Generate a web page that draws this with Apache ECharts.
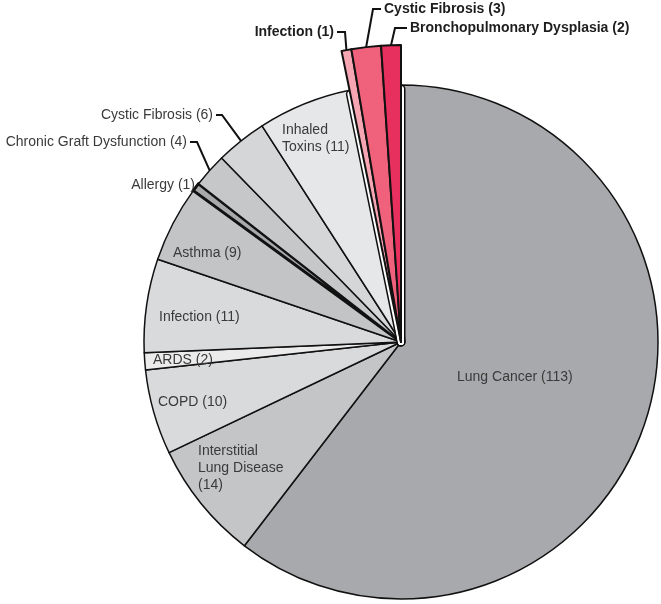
<!DOCTYPE html>
<html>
<head>
<meta charset="utf-8">
<script src="https://cdn.jsdelivr.net/npm/echarts@6/dist/echarts.min.js"></script>
<style>
  html, body { margin: 0; background: #fff; }
  #chart { width: 661px; height: 604px; }
</style>
</head>
<body>
<div id="chart"></div>
<script>
// slices clockwise from 12 o'clock
const names = [
  'Lung Cancer', 'Interstitial Lung Disease', 'COPD', 'ARDS', 'Infection', 'Asthma',
  'Allergy', 'Chronic Graft Dysfunction', 'Cystic Fibrosis', 'Inhaled Toxins',
  'Infection', 'Cystic Fibrosis', 'Bronchopulmonary Dysplasia'
]
const counts = [113, 14, 10, 2, 11, 9, 1, 4, 6, 11, 1, 3, 2]
const highlighted = [false, false, false, false, false, false, false, false, false, false, true, true, true]
const sliceColors = [
  '#a8a9ac', '#c4c5c7', '#d9dadb', '#ebebec', '#d9dadb', '#c3c4c6',
  '#a8a9ab', '#c6c7c9', '#d5d6d8', '#e6e7e8',
  '#f6a5b2', '#f0627c', '#e8305e'
]
// names broken over lines where the label wraps
const wrappedNames = { 1: 'Interstitial\nLung Disease\n', 9: 'Inhaled\nToxins ' }

const CX = 401, CY = 342
const R_GREY = 257, R_RED = 297
const total = counts.reduce((a, b) => a + b, 0)

// label anchor spots (pixels), knee = x of the leader line bend
const labelSpots = [
  { x: 457, y: 377, align: 'left' },
  { x: 198, y: 468, align: 'left' },
  { x: 158, y: 402, align: 'left' },
  { x: 153, y: 360, align: 'left' },
  { x: 159, y: 317, align: 'left' },
  { x: 173, y: 253, align: 'left' },
  { x: 195, y: 185, align: 'right' },
  { x: 187, y: 142, align: 'right', knee: 197 },
  { x: 213, y: 115, align: 'right', knee: 222 },
  { x: 282, y: 138.5, align: 'left' },
  { x: 334, y: 32, align: 'right', knee: 345 },
  { x: 384, y: 9, align: 'left', knee: 373 },
  { x: 410, y: 28, align: 'left', knee: 395 }
]
const outsideIdx = [6, 7, 8, 10, 11, 12]

function midAngle(i) {
  let before = 0
  for (let k = 0; k < i; k++) before += counts[k]
  return (before + counts[i] / 2) / total * 360
}
function polar(r, deg) {
  const a = deg * Math.PI / 180
  return [CX + r * Math.sin(a), CY - r * Math.cos(a)]
}
function labelText(i) {
  return (wrappedNames[i] || names[i] + ' ') + '(' + counts[i] + ')'
}

function placeLabel(params) {
  const i = params.dataIndex
  const spot = labelSpots[i]
  if (!spot) return
  const out = { x: spot.x, y: spot.y, align: spot.align, verticalAlign: 'middle' }
  if (spot.knee != null) {
    const edge = polar(highlighted[i] ? R_RED : R_GREY, midAngle(i))
    const end = spot.x + (spot.align === 'right' ? 3 : -3)
    out.labelLinePoints = [edge, [spot.knee, spot.y], [end, spot.y]]
  }
  return out
}

const hidden = { color: 'transparent', borderWidth: 0 }
const noLabel = { show: false }

function greyItems() {
  return counts.map((v, i) => {
    if (highlighted[i]) return { name: names[i], value: v, itemStyle: hidden, label: noLabel, labelLine: { show: false } }
    const outside = outsideIdx.includes(i)
    return {
      name: names[i], value: v,
      itemStyle: { color: sliceColors[i], borderColor: '#111', borderWidth: names[i] === 'Allergy' ? 3 : 1.5 },
      label: {
        show: true, position: outside ? 'outside' : 'inside',
        formatter: labelText(i), color: '#3a3a3a', fontSize: 14, lineHeight: 17,
        fontFamily: 'Liberation Sans, Arial, sans-serif'
      },
      labelLine: { show: outside && labelSpots[i].knee != null, lineStyle: { color: '#111', width: 2 } }
    }
  })
}

function redItems(style, withLabel) {
  return counts.map((v, i) => {
    if (!highlighted[i]) return { name: names[i], value: v, itemStyle: hidden, label: noLabel, labelLine: { show: false } }
    return {
      name: names[i], value: v,
      itemStyle: style(i),
      label: withLabel ? {
        show: true, position: 'outside', formatter: labelText(i),
        color: '#1e1e1e', fontSize: 14, fontWeight: 'bold',
        fontFamily: 'Liberation Sans, Arial, sans-serif'
      } : noLabel,
      labelLine: { show: withLabel, lineStyle: { color: '#111', width: 2 } }
    }
  })
}

const common = {
  type: 'pie', center: [CX, CY], startAngle: 90, clockwise: true,
  avoidLabelOverlap: false, silent: true, animation: false,
  labelLayout: placeLabel
}

const chart = echarts.init(document.getElementById('chart'), null, { renderer: 'canvas' })
chart.setOption({
  backgroundColor: '#fff',
  series: [
    { ...common, radius: [0, R_GREY], data: greyItems() },
    // black + white halo so the pulled-out red wedges sit in a thin white gap
    { ...common, radius: [0, R_GREY - 4], data: redItems(() => ({ color: 'transparent', borderColor: '#111', borderWidth: 9 }), false) },
    { ...common, radius: [0, R_GREY - 4], data: redItems(() => ({ color: '#fff', borderColor: '#fff', borderWidth: 6 }), false) },
    { ...common, radius: [0, R_RED], data: redItems(i => ({ color: sliceColors[i], borderColor: '#111', borderWidth: 2 }), true) }
  ]
})
</script>
</body>
</html>
